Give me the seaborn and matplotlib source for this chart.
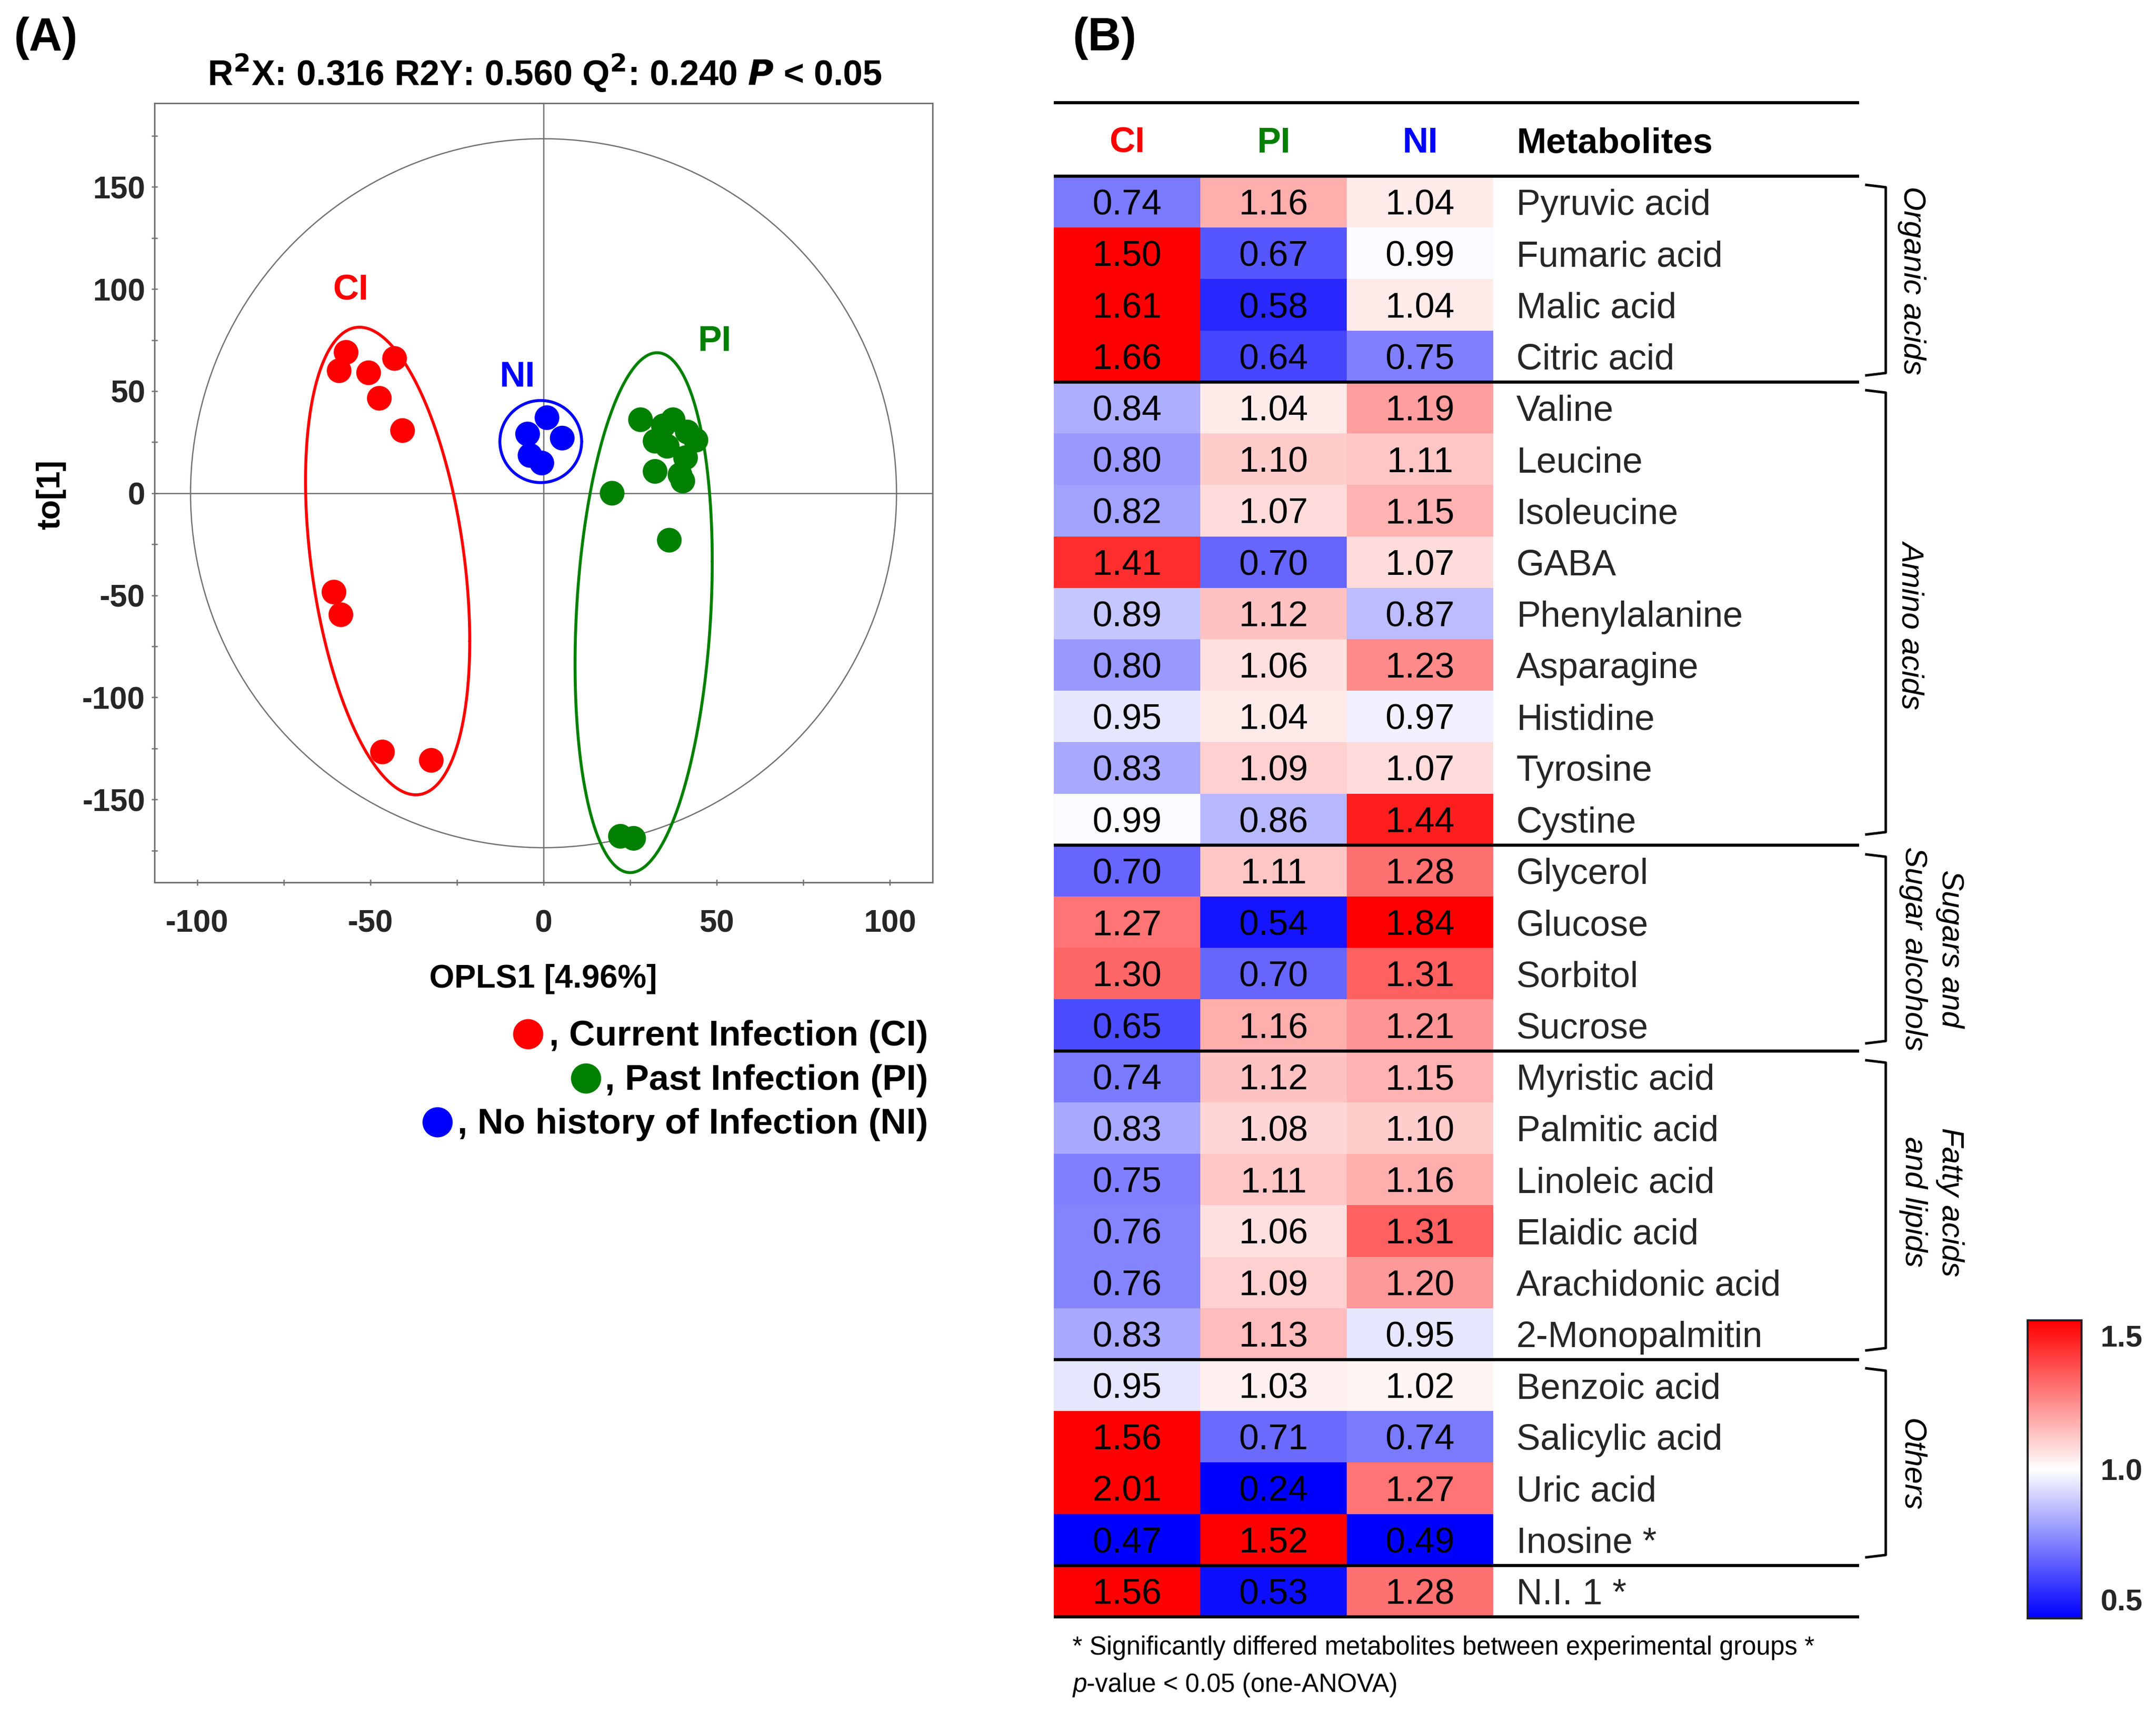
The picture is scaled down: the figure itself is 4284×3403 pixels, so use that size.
import numpy as np
import pandas as pd
import matplotlib
matplotlib.use('Agg')
import matplotlib.pyplot as plt
from matplotlib.lines import Line2D
from matplotlib.ticker import MultipleLocator
import seaborn as sns

W, H = 4284, 3403

# score plot
ci_x = [-57, -59, -50.5, -43, -47.4, -40.7, -60.5, -58.5, -46.5, -32.4]
ci_y = [69, 60, 59, 66, 46.5, 30.7, -48.4, -59.5, -126.7, -130.8]
pi_x = [28, 34.6, 37.4, 41.5, 44, 32.2, 35.7, 41, 32.2, 39.4, 40.2, 19.8, 36.3, 22.2, 26]
pi_y = [36, 33, 36, 30, 26, 25.5, 23, 17.4, 10.7, 9, 6, 0, -23, -168, -169]
ni_x = [1, 5.4, -4.6, -3.9, -0.5]
ni_y = [37, 27, 29, 18.5, 14.8]

# table
metabolites = ['Pyruvic acid', 'Fumaric acid', 'Malic acid', 'Citric acid',
               'Valine', 'Leucine', 'Isoleucine', 'GABA', 'Phenylalanine', 'Asparagine',
               'Histidine', 'Tyrosine', 'Cystine',
               'Glycerol', 'Glucose', 'Sorbitol', 'Sucrose',
               'Myristic acid', 'Palmitic acid', 'Linoleic acid', 'Elaidic acid',
               'Arachidonic acid', '2-Monopalmitin',
               'Benzoic acid', 'Salicylic acid', 'Uric acid', 'Inosine *', 'N.I. 1 *']
ci_vals = [0.74, 1.50, 1.61, 1.66, 0.84, 0.80, 0.82, 1.41, 0.89, 0.80, 0.95, 0.83, 0.99,
           0.70, 1.27, 1.30, 0.65, 0.74, 0.83, 0.75, 0.76, 0.76, 0.83, 0.95, 1.56, 2.01, 0.47, 1.56]
pi_vals = [1.16, 0.67, 0.58, 0.64, 1.04, 1.10, 1.07, 0.70, 1.12, 1.06, 1.04, 1.09, 0.86,
           1.11, 0.54, 0.70, 1.16, 1.12, 1.08, 1.11, 1.06, 1.09, 1.13, 1.03, 0.71, 0.24, 1.52, 0.53]
ni_vals = [1.04, 0.99, 1.04, 0.75, 1.19, 1.11, 1.15, 1.07, 0.87, 1.23, 0.97, 1.07, 1.44,
           1.28, 1.84, 1.31, 1.21, 1.15, 1.10, 1.16, 1.31, 1.20, 0.95, 1.02, 0.74, 1.27, 0.49, 1.28]

group_colors = {'CI': 'red', 'PI': 'green', 'NI': 'blue'}

sns.set_theme(style='ticks')
plt.rcParams['font.family'] = 'Liberation Sans'
plt.rcParams['axes.unicode_minus'] = False


def add_ax(left, top, right, bottom):
    return fig.add_axes([left / W, 1 - bottom / H, (right - left) / W, (bottom - top) / H])


def put_text(x, y, s, **kw):
    kw.setdefault('va', 'center')
    fig.text(x / W, 1 - y / H, s, color=kw.pop('color', 'black'), **kw)


def put_line(xs, ys, lw=1.5, color='black'):
    fig.add_artist(Line2D([x / W for x in xs], [1 - y / H for y in ys],
                          lw=lw, color=color, solid_capstyle='butt', solid_joinstyle='round'))


def group_ellipse(ax, cx, cy, sx, sy, rho, color):
    t = np.linspace(0, 2 * np.pi, 200)
    ax.plot(cx + sx * np.cos(t),
            cy + sy * (rho * np.cos(t) + np.sqrt(1 - rho ** 2) * np.sin(t)),
            color=color, lw=1.4)


fig = plt.figure(figsize=(W / 300, H / 300), dpi=300)

# panel A
ax = add_ax(307, 205, 1853, 1753)
ax.axhline(0, color='#707070', lw=0.6, zorder=1)
ax.axvline(0, color='#707070', lw=0.6, zorder=1)
group_ellipse(ax, 0, 0, 101.9, 173.6, 0, '#707070')
ax.lines[-1].set_linewidth(0.6)
group_ellipse(ax, -45, -33.2, 23.7, 114.5, -0.343, 'red')
group_ellipse(ax, 28.9, -58.5, 19.8, 127.3, 0.197, 'green')
group_ellipse(ax, -0.8, 25.3, 11.8, 20.1, 0, 'blue')

scores = pd.DataFrame({
    'x': ci_x + pi_x + ni_x,
    'y': ci_y + pi_y + ni_y,
    'group': ['CI'] * len(ci_x) + ['PI'] * len(pi_x) + ['NI'] * len(ni_x),
})
sns.scatterplot(data=scores, x='x', y='y', hue='group', palette=group_colors,
                s=139, linewidth=0, legend=False, ax=ax, zorder=3)

ax.set_xlim(-112.3, 112.3)
ax.set_ylim(-190.6, 191)
ax.xaxis.set_major_locator(MultipleLocator(50))
ax.xaxis.set_minor_locator(MultipleLocator(25))
ax.yaxis.set_major_locator(MultipleLocator(50))
ax.yaxis.set_minor_locator(MultipleLocator(25))
ax.tick_params(which='both', color='#707070', width=0.6, length=3, direction='inout')
ax.tick_params(axis='x', which='major', labelsize=15, pad=11)
ax.tick_params(axis='y', which='major', labelsize=15, pad=3)
for lab in ax.get_xticklabels() + ax.get_yticklabels():
    lab.set_fontweight('bold')
for lab in ax.get_yticklabels():
    lab.set_va('center_baseline')
for sp in ax.spines.values():
    sp.set_color('#707070')
    sp.set_linewidth(0.7)
ax.set_xlabel('')
ax.set_ylabel('')

for name, tx, ty in [('CI', -55.7, 99.2), ('PI', 49.3, 74.1), ('NI', -7.6, 56.7)]:
    ax.text(tx, ty, name, color=group_colors[name], fontsize=17, fontweight='bold',
            ha='center', va='center')

put_text(27, 76, '(A)', fontsize=22, fontweight='bold')
put_text(2131, 76, '(B)', fontsize=22, fontweight='bold')
put_text(1082, 145, r'R$^{\mathbf{2}}$X: 0.316 R2Y: 0.560 Q$^{\mathbf{2}}$: 0.240 $\mathbfit{P}$ < 0.05',
         fontsize=16.8, fontweight='bold', ha='center')
put_text(101, 983, 'to[1]', fontsize=15.4, fontweight='bold', rotation=90, ha='center')
put_text(1079, 1945, 'OPLS1 [4.96%]', fontsize=15.4, fontweight='bold', ha='center')

legend_rows = [(2059, 1049, 'red', ', Current Infection (CI)'),
               (2147, 1164, 'green', ', Past Infection (PI)'),
               (2234, 869, 'blue', ', No history of Infection (NI)')]
for ly, mx, col, label in legend_rows:
    put_text(1844, ly, label, fontsize=17.15, fontweight='bold', ha='right')
    fig.add_artist(Line2D([mx / W], [1 - (ly - 5) / H], marker='o', ms=14.4, color=col, mew=0))

# panel B
table = pd.DataFrame({'CI': ci_vals, 'PI': pi_vals, 'NI': ni_vals}, index=metabolites)
hm = add_ax(2094, 350, 2967, 3212)
cax = add_ax(4029, 2623, 4136, 3215)
sns.heatmap(table, cmap='bwr', vmin=0.5, vmax=1.5, center=1.0, annot=True, fmt='.2f',
            annot_kws={'fontsize': 17, 'color': 'black', 'va': 'center_baseline'},
            ax=hm, cbar_ax=cax, cbar_kws={'ticks': [0.5625, 1.0, 1.449]})
hm.set_xticks([])
hm.yaxis.tick_right()
hm.tick_params(axis='y', length=0, labelsize=17.2, pad=11, rotation=0)

cbar = hm.collections[0].colorbar
cbar.set_ticklabels(['0.5', '1.0', '1.5'])
cbar.outline.set_linewidth(1.0)
cbar.outline.set_edgecolor('#222222')
cax.tick_params(length=0, pad=9, labelsize=14.5)
for lab in cax.get_yticklabels():
    lab.set_fontweight('bold')

for name, col_i in zip(table.columns, [0.5, 1.5, 2.5]):
    hm.text(col_i, -0.64, name, color=group_colors[name], fontsize=17, fontweight='bold',
            ha='center', va='center', clip_on=False)
put_text(3013, 285, 'Metabolites', fontsize=17, fontweight='bold')

# rules across the table
for rule_y in [204, 350, 759, 1679, 2088, 2701, 3110, 3212]:
    put_line([2094, 3694], [rule_y, rule_y], lw=1.5)

# brackets and class names
for top, bottom in [(367, 746), (775, 1658), (1697, 2073), (2106, 2683), (2718, 3094)]:
    put_line([3706, 3747, 3747, 3706], [top, top + 5, bottom - 5, bottom], lw=1.2)
classes = [(3798, 557, 'Organic acids'), (3798, 1240, 'Amino acids'),
           (3838, 1885, 'Sugars and\nSugar alcohols'), (3838, 2388, 'Fatty acids\nand lipids'),
           (3798, 2910, 'Others')]
for cx, cy, label in classes:
    put_text(cx, cy, label, fontsize=14.7, style='italic', rotation=270, ha='center',
             multialignment='center', linespacing=1.35)

put_text(2131, 3273, '* Significantly differed metabolites between experimental groups *', fontsize=12.2)
put_text(2131, 3347, 'p', fontsize=12.2, style='italic')
put_text(2159, 3347, '-value < 0.05 (one-ANOVA)', fontsize=12.2)

plt.savefig('out.png', dpi=300)
